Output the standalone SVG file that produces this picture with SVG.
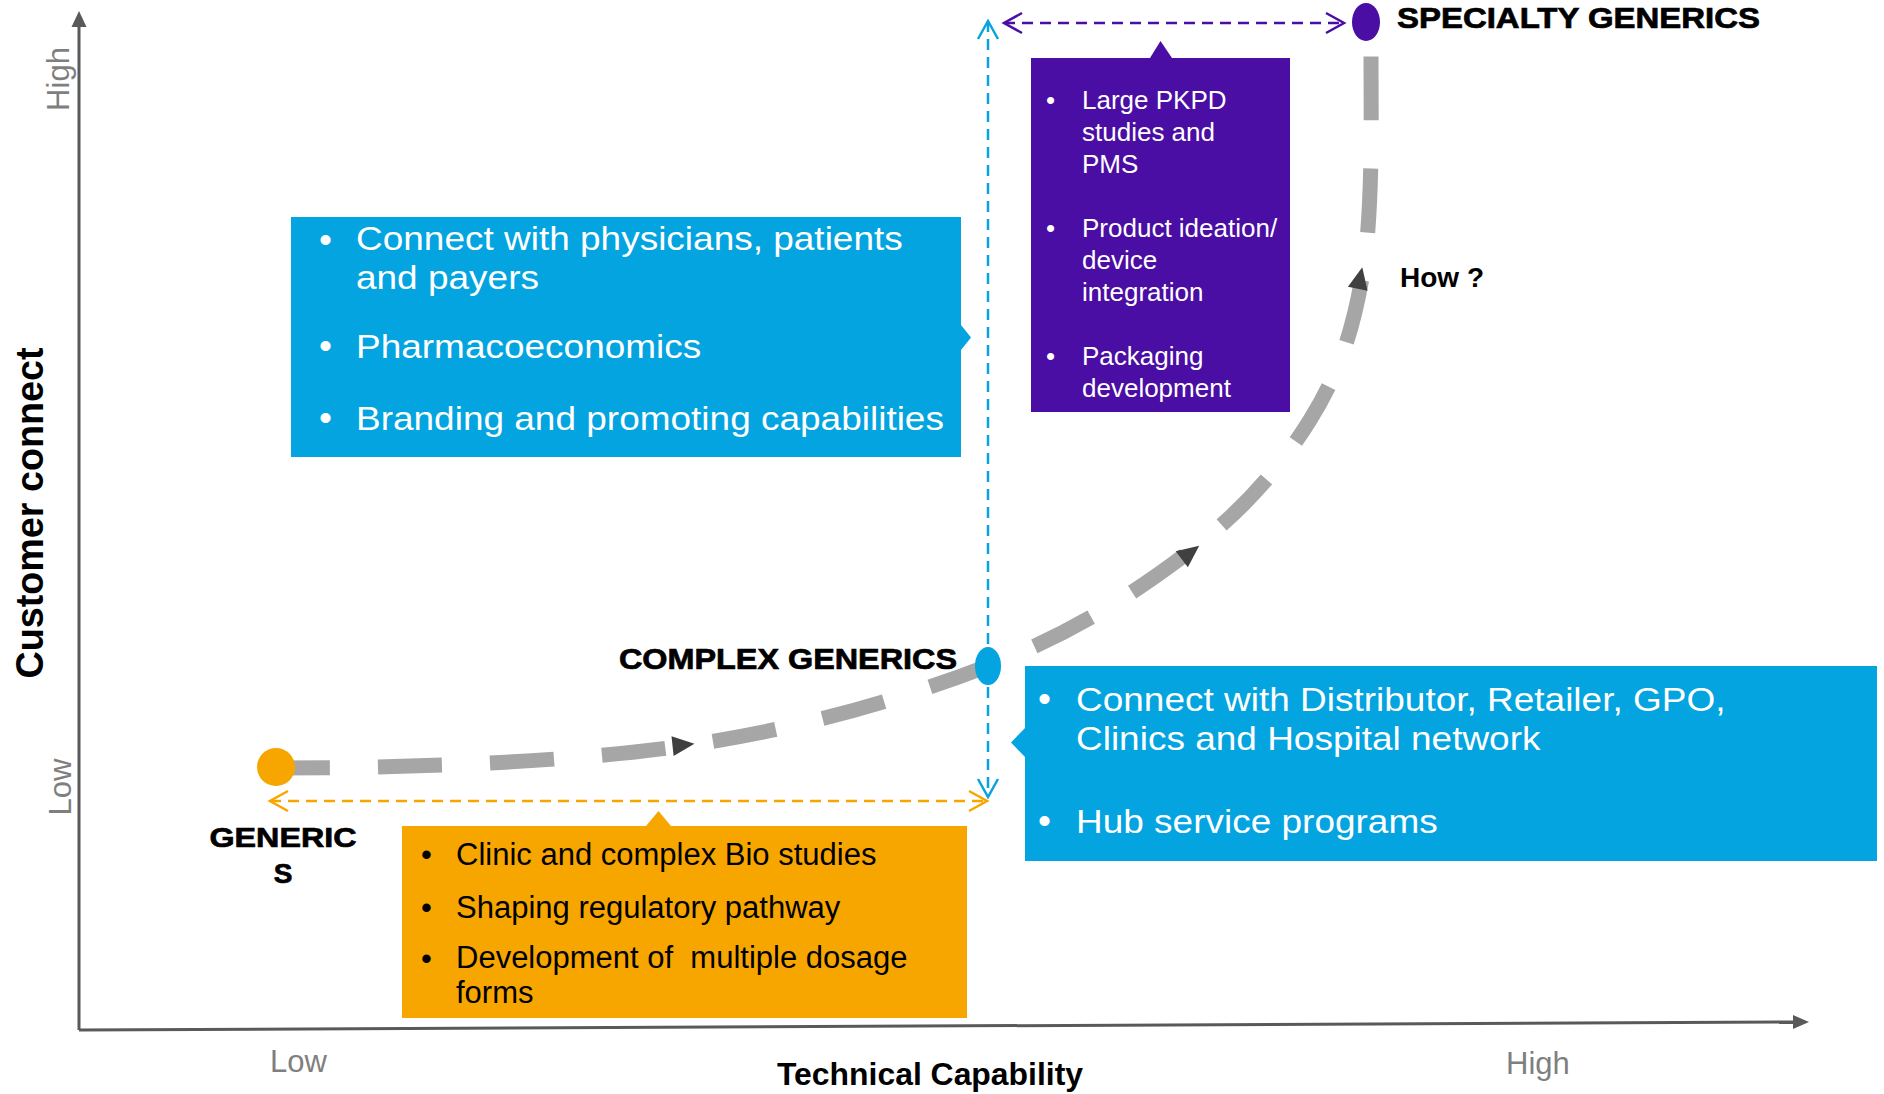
<svg xmlns="http://www.w3.org/2000/svg" width="1884" height="1094" viewBox="0 0 1884 1094">
<defs>
<style>
text{font-family:"Liberation Sans",Arial,sans-serif}
.wt{fill:#ffffff}
.bk{fill:#000000}
.gl{fill:#7f7f7f;font-size:31px}
.bold{font-weight:bold}
.stage{font-weight:bold;fill:#000;stroke:#000;stroke-width:0.7}
.big{font-size:34px}
.bul{font-size:37px}
.mid{font-size:31px}
.sm{font-size:26px}
.axis{stroke:#595959;stroke-width:3;fill:none}
.dsh{fill:none;stroke-width:2.5;stroke-dasharray:11 7}
.curve{fill:none;stroke:#a6a6a6;stroke-width:15;stroke-dasharray:64 48;stroke-dashoffset:10}
.ah{fill:#404040}
</style>
<marker id="chevB" viewBox="-22 -13 25 26" refX="0" refY="0" markerWidth="25" markerHeight="26" markerUnits="userSpaceOnUse" orient="auto-start-reverse" overflow="visible"><path d="M-18,-10 L0,0 L-18,10" fill="none" stroke="#0aa3e0" stroke-width="2.5"/></marker>
<marker id="chevO" viewBox="-22 -13 25 26" refX="0" refY="0" markerWidth="25" markerHeight="26" markerUnits="userSpaceOnUse" orient="auto-start-reverse" overflow="visible"><path d="M-18,-10 L0,0 L-18,10" fill="none" stroke="#f7a600" stroke-width="2.5"/></marker>
<marker id="chevP" viewBox="-22 -13 25 26" refX="0" refY="0" markerWidth="25" markerHeight="26" markerUnits="userSpaceOnUse" orient="auto-start-reverse" overflow="visible"><path d="M-18,-10 L0,0 L-18,10" fill="none" stroke="#4a0ea4" stroke-width="2.5"/></marker>
<polygon id="tri" points="-11,-10 11,0 -11,10"/>
</defs>
<rect width="1884" height="1094" fill="#ffffff"/>

<g id="axes">
<line class="axis" x1="79" y1="1030" x2="79" y2="24"/>
<polygon points="79,11 71.5,27 86.5,27" fill="#595959"/>
<line class="axis" x1="79" y1="1030" x2="1795" y2="1022"/>
<polygon points="1809,1022 1793,1015 1793,1029" fill="#595959"/>
<text class="gl" transform="translate(68.5,79) rotate(-90)" text-anchor="middle">High</text>
<text class="gl" transform="translate(71,787) rotate(-90)" text-anchor="middle">Low</text>
<text class="bold bk" style="font-size:38px" transform="translate(43,513) rotate(-90)" text-anchor="middle" textLength="331" lengthAdjust="spacingAndGlyphs">Customer connect</text>
<text class="gl" x="270" y="1072">Low</text>
<text class="gl" x="1506" y="1074">High</text>
<text class="bold bk" style="font-size:31px" x="777" y="1085" textLength="306" lengthAdjust="spacingAndGlyphs">Technical Capability</text>
</g>

<g id="connectors">
<path class="curve" d="M276,768 C400,768 564.3,763 683,746 C801.7,729 903.5,698.5 988,666 C1072.5,633.5 1136.3,592 1190,551 C1243.7,510 1281.2,466.5 1310,420 C1338.8,373.5 1352.8,332.5 1363,272 C1373.2,211.5 1371,110 1371,55"/>
<use href="#tri" class="ah" transform="translate(683.5,745) rotate(-6)"/>
<use href="#tri" class="ah" transform="translate(1190.5,552.5) rotate(-37.6)"/>
<use href="#tri" class="ah" transform="translate(1360,278) rotate(-78)"/>
<line class="dsh" stroke="#0aa3e0" x1="988" y1="21" x2="988" y2="797" marker-start="url(#chevB)" marker-end="url(#chevB)"/>
<line class="dsh" stroke="#f7a600" x1="270" y1="801" x2="987" y2="801" marker-start="url(#chevO)" marker-end="url(#chevO)"/>
<line class="dsh" stroke="#4a0ea4" x1="1004" y1="23" x2="1344" y2="23" marker-start="url(#chevP)" marker-end="url(#chevP)"/>
</g>

<g id="node-generics">
<circle cx="276" cy="767" r="19" fill="#f7a600"/>
<text class="stage" style="font-size:28px" text-anchor="middle"><tspan x="283" y="847" textLength="147" lengthAdjust="spacingAndGlyphs">GENERIC</tspan><tspan x="283" y="883">S</tspan></text>
</g>

<g id="node-complex">
<ellipse cx="988" cy="666" rx="13" ry="19" fill="#03a4e0"/>
<text class="stage" style="font-size:29px" x="619" y="669" textLength="338" lengthAdjust="spacingAndGlyphs">COMPLEX GENERICS</text>
</g>

<g id="node-specialty">
<ellipse cx="1366" cy="22" rx="14" ry="19" fill="#4a0ea4"/>
<text class="stage" style="font-size:29px" x="1397" y="28" textLength="363" lengthAdjust="spacingAndGlyphs">SPECIALTY GENERICS</text>
</g>

<g id="label-how">
<text class="bold bk" style="font-size:28px" x="1400" y="287">How ?</text>
</g>

<g id="box-customer">
<path d="M291,217 H961 V325 L971,337.5 L961,350 V457 H291 Z" fill="#03a4e0"/>
<g class="wt bul">
<text x="319" y="252">•</text>
<text x="319" y="358">•</text>
<text x="319" y="430">•</text>
</g>
<g class="wt big" transform="matrix(1.088 0 0 1 -31.33 0)">
<text><tspan x="356" y="250.5">Connect with physicians, patients</tspan><tspan x="356" y="289">and payers</tspan></text>
<text x="356" y="358">Pharmacoeconomics</text>
<text x="356" y="430">Branding and promoting capabilities</text>
</g>
</g>

<g id="box-technical">
<path d="M402,826 H646 L658.5,811 L671,826 H967 V1018 H402 Z" fill="#f7a600"/>
<g class="bk mid">
<text x="421" y="865">•</text>
<text x="456" y="865">Clinic and complex Bio studies</text>
<text x="421" y="918">•</text>
<text x="456" y="918">Shaping regulatory pathway</text>
<text x="421" y="969">•</text>
<text xml:space="preserve"><tspan x="456" y="968">Development of  multiple dosage</tspan><tspan x="456" y="1003">forms</tspan></text>
</g>
</g>

<g id="box-distribution">
<path d="M1025,666 H1877 V861 H1025 V757 L1011,742.5 L1025,728 Z" fill="#03a4e0"/>
<g class="wt bul">
<text x="1038" y="711">•</text>
<text x="1038" y="833">•</text>
</g>
<g class="wt big" transform="matrix(1.088 0 0 1 -94.69 0)">
<text><tspan x="1076" y="711">Connect with Distributor, Retailer, GPO,</tspan><tspan x="1076" y="750">Clinics and Hospital network</tspan></text>
<text x="1076" y="833">Hub service programs</text>
</g>
</g>

<g id="box-specialty">
<path d="M1031,58 H1150 L1160.5,41 L1172,58 H1290 V412 H1031 Z" fill="#4a0ea4"/>
<g class="wt sm">
<text x="1046" y="109">•</text>
<text><tspan x="1082" y="109">Large PKPD</tspan><tspan x="1082" y="141">studies and</tspan><tspan x="1082" y="173">PMS</tspan></text>
<text x="1046" y="237">•</text>
<text><tspan x="1082" y="237">Product ideation/</tspan><tspan x="1082" y="269">device</tspan><tspan x="1082" y="301">integration</tspan></text>
<text x="1046" y="365">•</text>
<text><tspan x="1082" y="365">Packaging</tspan><tspan x="1082" y="397">development</tspan></text>
</g>
</g>
</svg>
